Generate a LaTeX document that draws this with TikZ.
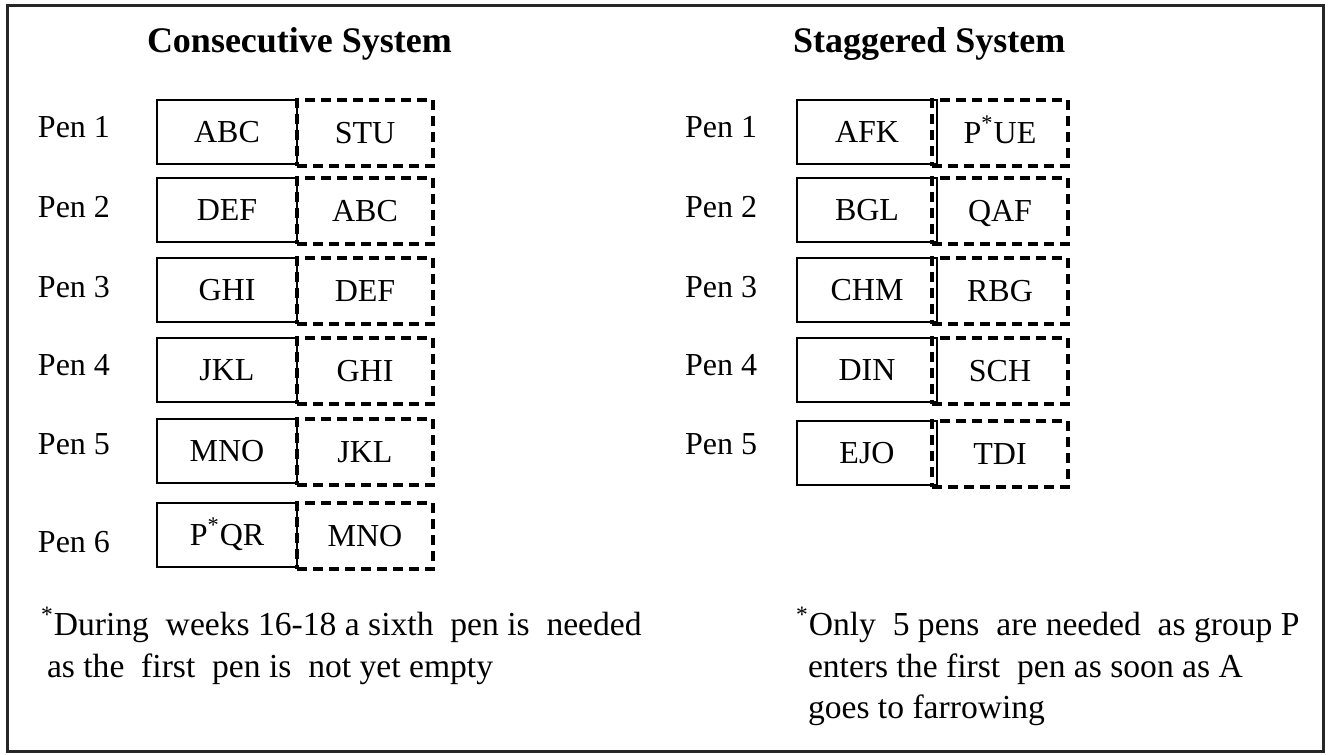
\documentclass[tikz,border=0pt]{standalone}
\usepackage{fontspec}
\setmainfont{Liberation Serif}
\begin{document}
\begin{tikzpicture}[x=0.5pt,y=-0.5pt,
  every node/.style={inner sep=0pt, outer sep=0pt},
  frame/.style={draw=black!85, line width=1.5pt},
  heading/.style={font=\fontsize{18}{21}\selectfont\bfseries, anchor=base west},
  penlabel/.style={font=\fontsize{16}{19}\selectfont, anchor=base west},
  note/.style={font=\fontsize{16.8}{19}\selectfont, anchor=base west},
  current/.style={draw=black, line width=0.9pt, anchor=north west,
    minimum width=70pt, minimum height=32pt,
    text height=10.5pt, text depth=0pt, font=\fontsize{16}{19}\selectfont},
  following/.style={draw=black, line width=1.6pt, dash pattern=on 5pt off 3pt,
    anchor=north west, minimum width=68pt, minimum height=33pt,
    text height=10.5pt, text depth=0pt, font=\fontsize{16}{19}\selectfont},
]
\useasboundingbox (0,0) rectangle (1329,755);
\fill[white] (0,0) rectangle (1329,755);
\draw[frame] (7,5) rectangle (1323,751);

% headings
\node[heading] (hcons) at (147,52) {Consecutive System};
\node[heading] (hstag) at (793,52) {Staggered System};

% consecutive system: six pens
\foreach \i/\top/\base/\now/\nxt in {
  1/100/137/ABC/STU,
  2/178/217/DEF/ABC,
  3/258/297/GHI/DEF,
  4/338/375/JKL/GHI,
  5/419/454/MNO/JKL,
  6/503/552/P\textsuperscript{*}QR/MNO}{
  \node[penlabel] (cpen\i) at (38,\base) {Pen \i};
  \node[current] (cnow\i) at (157,\top) {\now};
  \node[following] (cnext\i) at (297,\top) {\nxt};
}

% staggered system: five pens
\foreach \i/\top/\base/\now/\nxt in {
  1/100/137/AFK/P\textsuperscript{*}UE,
  2/178/217/BGL/QAF,
  3/258/297/CHM/RBG,
  4/338/375/DIN/SCH,
  5/421/454/EJO/TDI}{
  \node[penlabel] (spen\i) at (685,\base) {Pen \i};
  \node[current] (snow\i) at (797,\top) {\now};
  \node[following] (snext\i) at (932,\top) {\nxt};
}

% footnotes
\node[note] (cnote1) at (41,635) {\textsuperscript{*}During\ \ weeks 16-18 a sixth\ \ pen is\ \ needed};
\node[note] (cnote2) at (47,677) {as the\ \ first\ \ pen is\ \ not yet empty};
\node[note] (snote1) at (796,635) {\textsuperscript{*}Only\ \ 5 pens\ \ are needed\ \ as group P};
\node[note] (snote2) at (808,677) {enters the first\ \ pen as soon as A};
\node[note] (snote3) at (808,718) {goes to farrowing};
\end{tikzpicture}
\end{document}
